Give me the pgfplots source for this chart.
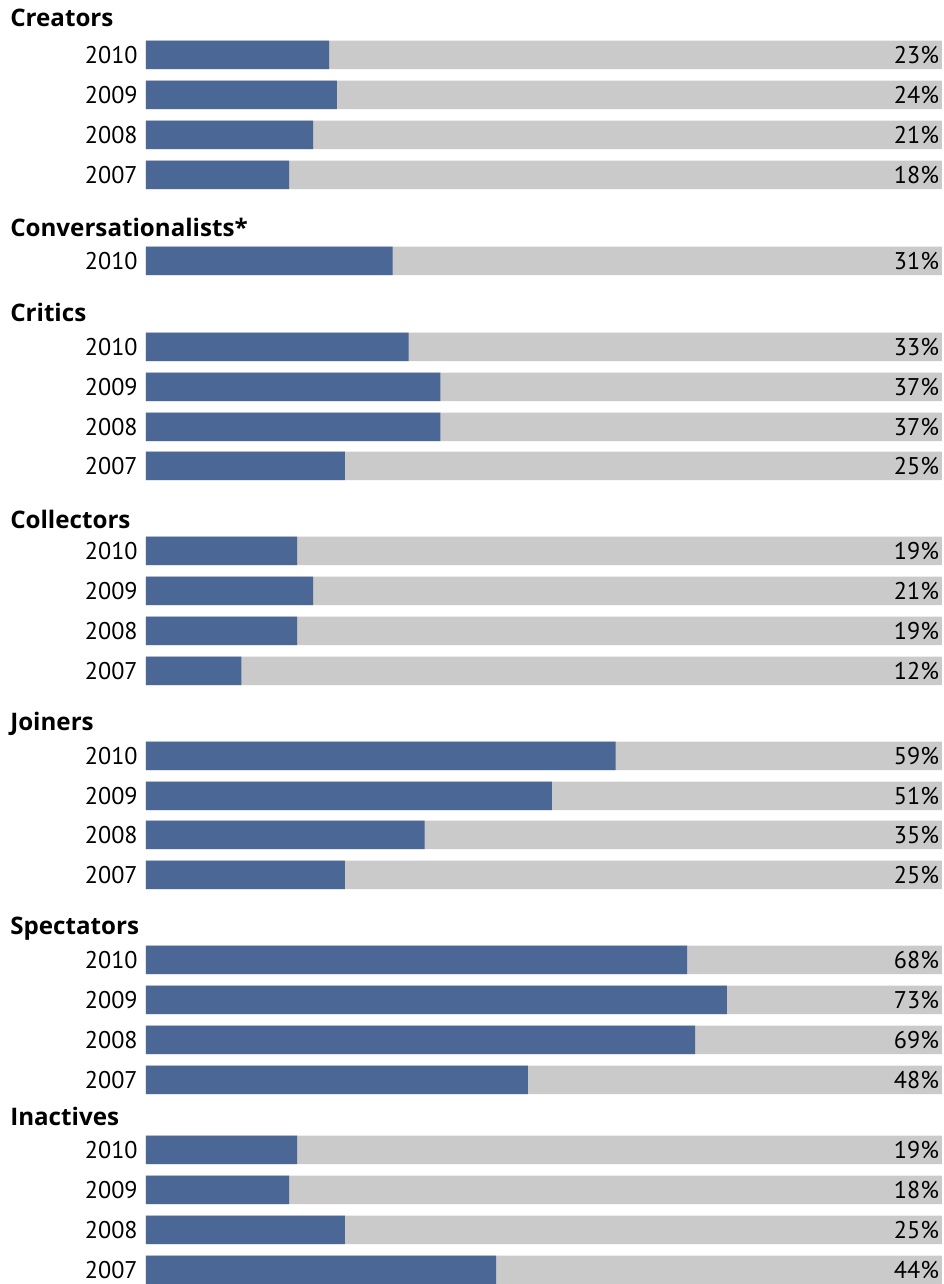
\documentclass[border=0pt]{standalone}
\usepackage{pgfplots}
\pgfplotsset{compat=1.18}
\usepackage{pgfplotstable}
\usepackage{fontspec}
\setmainfont{PT Sans}
\newfontfamily\hdfont{Open Sans}
\definecolor{barblue}{RGB}{74,103,150}
\definecolor{bargray}{RGB}{202,202,202}
\pgfplotstableread{
y val lab
55 23 23\%
95 24 24\%
135 21 21\%
175 18 18\%
261 31 31\%
347 33 33\%
387 37 37\%
427 37 37\%
466 25 25\%
551 19 19\%
591 21 21\%
631 19 19\%
671 12 12\%
756 59 59\%
796 51 51\%
835 35 35\%
875 25 25\%
960 68 68\%
1000 73 73\%
1040 69 69\%
1080 48 48\%
1150 19 19\%
1190 18 18\%
1230 25 25\%
1270 44 44\%
}\data
\begin{document}
\begin{tikzpicture}
\begin{axis}[
  x=4.776pt, y=0.6pt, y dir=reverse,
  xmin=0, xmax=100, ymin=0, ymax=1284,
  axis line style={draw=none},
  major tick length=0pt,
  xtick=\empty,
  ytick={55,95,135,175,261,347,387,427,466,551,591,631,671,756,796,835,875,960,1000,1040,1080,1150,1190,1230,1270},
  yticklabels={2010,2009,2008,2007,2010,2010,2009,2008,2007,2010,2009,2008,2007,2010,2009,2008,2007,2010,2009,2008,2007,2010,2009,2008,2007},
  yticklabel style={font=\fontsize{14.5}{17}\selectfont, inner sep=0pt, anchor=east, xshift=-4.8pt},
  clip=false,
  every node near coord/.append style={anchor=east, font=\fontsize{14.5}{17}\selectfont, inner sep=0pt, xshift=-1.5pt},
]
\addplot[xbar, bar width=17.1pt, bar shift=0pt, fill=bargray, draw=none,
  nodes near coords, point meta=explicit symbolic]
  table[x expr=100, y=y, meta=lab] {\data};
\addplot[xbar, bar width=17.1pt, bar shift=0pt, fill=barblue, draw=none]
  table[x=val, y=y] {\data};
\path (axis cs:-18.34,0) rectangle (axis cs:100.25,1284);
\tikzset{hd/.style={anchor=west, inner sep=0pt, font=\hdfont\fontsize{14.5}{17}\selectfont\bfseries}}
\node[hd] at (axis cs:-17.09,18) {Creators};
\node[hd] at (axis cs:-17.09,227) {Conversationalists*};
\node[hd] at (axis cs:-17.09,312) {Critics};
\node[hd] at (axis cs:-17.09,520) {Collectors};
\node[hd] at (axis cs:-17.09,724) {Joiners};
\node[hd] at (axis cs:-17.09,929) {Spectators};
\node[hd] at (axis cs:-17.09,1117) {Inactives};
\end{axis}
\end{tikzpicture}
\end{document}
